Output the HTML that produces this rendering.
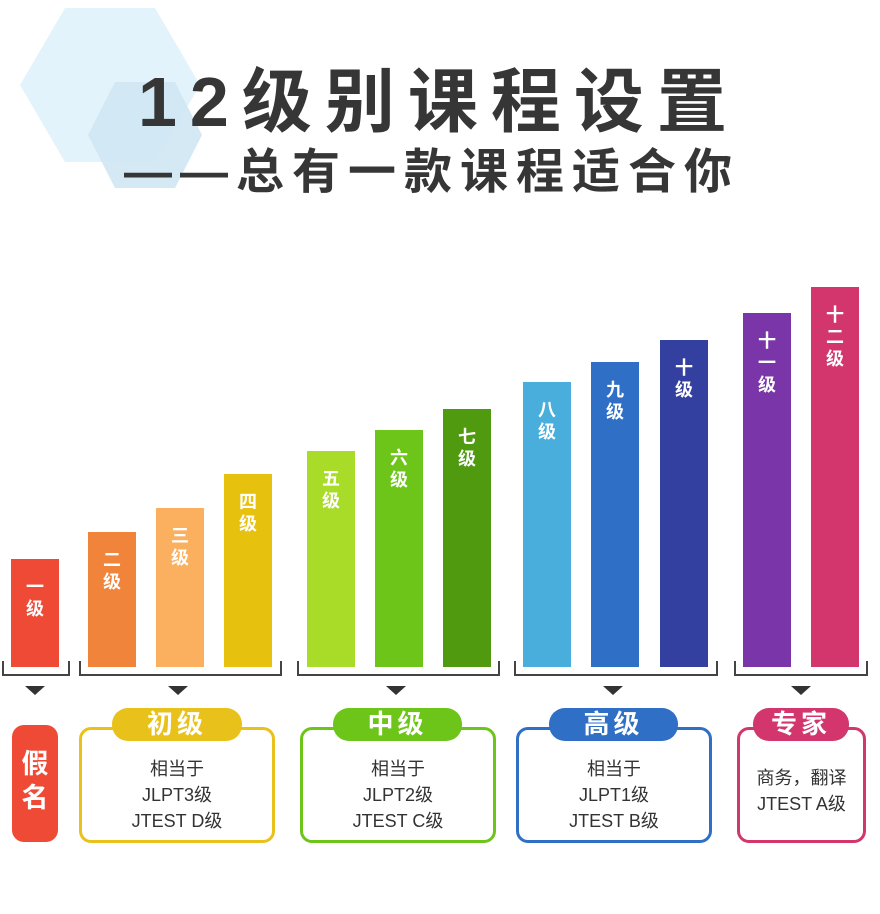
<!DOCTYPE html>
<html><head><meta charset="utf-8"><style>
body{margin:0;width:880px;height:914px;background:#fff;position:relative;overflow:hidden;font-family:"Liberation Sans","Noto Sans CJK SC",sans-serif}
.a{position:absolute}
.bar{position:absolute;bottom:247px;width:48px;color:#fff;font-weight:bold;font-size:18px;line-height:22px;text-align:center;box-sizing:border-box;padding-top:17px}
.br{position:absolute;top:661px;height:13px;border:2px solid #444;border-top:none}
.tri{position:absolute;top:686px;width:0;height:0;border-left:10px solid transparent;border-right:10px solid transparent;border-top:9px solid #333}
.box{position:absolute;top:727px;height:116px;border:3px solid;border-radius:12px;box-sizing:border-box;text-align:center;font-size:18px;line-height:26px;color:#333;padding-top:26px}
.pill{position:absolute;top:708px;height:33px;border-radius:16px;color:#fff;font-size:26px;font-weight:bold;line-height:33px;text-align:center;letter-spacing:4px}
</style></head><body>
<svg class="a" style="left:0;top:0" width="260" height="220">
<polygon points="20,85 65,8 155,8 200,85 155,162 65,162" fill="#e3f3fb"/>
<polygon points="88,135 115,82 175,82 202,135 175,188 115,188" fill="#cfe7f3" opacity="0.9"/>
</svg>
<div class="a" style="left:138px;top:52px;font-size:70px;font-weight:bold;color:#363636;letter-spacing:13px;line-height:100px;white-space:nowrap">12级别课程设置</div>
<div class="a" style="left:124px;top:143px;font-size:48px;font-weight:bold;color:#363636;letter-spacing:8px;line-height:60px;white-space:nowrap">——总有一款课程适合你</div>

<div class="bar" style="left:11px;height:108px;background:#ee4a35">一<br>级</div>
<div class="bar" style="left:88px;height:135px;background:#f0843a">二<br>级</div>
<div class="bar" style="left:156px;height:159px;background:#fbb060">三<br>级</div>
<div class="bar" style="left:224px;height:193px;background:#e6c20f">四<br>级</div>
<div class="bar" style="left:307px;height:216px;background:#a8dc28">五<br>级</div>
<div class="bar" style="left:375px;height:237px;background:#6ec51a">六<br>级</div>
<div class="bar" style="left:443px;height:258px;background:#4f9a0f">七<br>级</div>
<div class="bar" style="left:523px;height:285px;background:#4aaedd">八<br>级</div>
<div class="bar" style="left:591px;height:305px;background:#2f6fc6">九<br>级</div>
<div class="bar" style="left:660px;height:327px;background:#34409f">十<br>级</div>
<div class="bar" style="left:743px;height:354px;background:#7a36a8">十<br>一<br>级</div>
<div class="bar" style="left:811px;height:380px;background:#d2366d">十<br>二<br>级</div>

<div class="br" style="left:2px;width:64px"></div>
<div class="br" style="left:79px;width:199px"></div>
<div class="br" style="left:297px;width:199px"></div>
<div class="br" style="left:514px;width:200px"></div>
<div class="br" style="left:734px;width:130px"></div>
<div class="tri" style="left:25px"></div>
<div class="tri" style="left:168px"></div>
<div class="tri" style="left:386px"></div>
<div class="tri" style="left:603px"></div>
<div class="tri" style="left:791px"></div>

<div class="a" style="left:12px;top:725px;width:46px;height:117px;background:#ee4a35;border-radius:12px;color:#fff;font-size:27px;font-weight:bold;text-align:center;line-height:34px;padding-top:22px;box-sizing:border-box">假<br>名</div>

<div class="box" style="left:79px;width:196px;border-color:#e8c21a">相当于<br>JLPT3级<br>JTEST D级</div>
<div class="pill" style="left:112px;width:130px;background:#e8c21a">初级</div>
<div class="box" style="left:300px;width:196px;border-color:#6ec51a">相当于<br>JLPT2级<br>JTEST C级</div>
<div class="pill" style="left:333px;width:129px;background:#6ec51a">中级</div>
<div class="box" style="left:516px;width:196px;border-color:#2f6fc6">相当于<br>JLPT1级<br>JTEST B级</div>
<div class="pill" style="left:549px;width:129px;background:#2f6fc6">高级</div>
<div class="box" style="left:737px;width:129px;border-color:#d2366d;padding-top:35px">商务，翻译<br>JTEST A级</div>
<div class="pill" style="left:753px;width:96px;background:#d2366d">专家</div>
</body></html>
